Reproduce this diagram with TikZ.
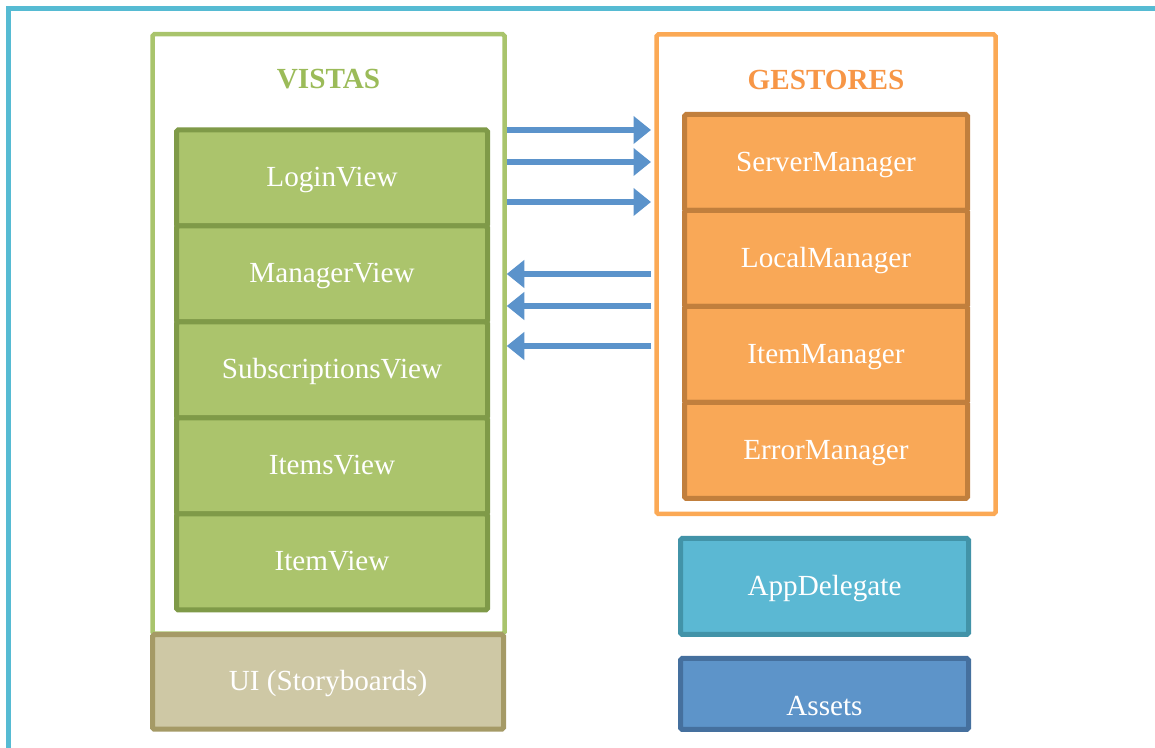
\documentclass[tikz,border=0pt]{standalone}
\usepackage{fontspec}
\setmainfont{Liberation Serif}
\usepackage{xcolor}
\usepackage{tikz}
\usetikzlibrary{arrows.meta,positioning}

\definecolor{marco}{HTML}{56BBD3}
\definecolor{verdeMarco}{HTML}{A9C46C}
\definecolor{verdeTitulo}{HTML}{9BBB59}
\definecolor{verdeRelleno}{HTML}{ABC46C}
\definecolor{verdeBorde}{HTML}{7F9A48}
\definecolor{uiRelleno}{HTML}{CEC8A5}
\definecolor{uiBorde}{HTML}{A59A66}
\definecolor{naranjaMarco}{HTML}{FBA955}
\definecolor{naranjaTitulo}{HTML}{F79646}
\definecolor{naranjaRelleno}{HTML}{F9A857}
\definecolor{naranjaBorde}{HTML}{C17F3D}
\definecolor{appRelleno}{HTML}{5BB8D3}
\definecolor{appBorde}{HTML}{4293A8}
\definecolor{assetsRelleno}{HTML}{5D94C9}
\definecolor{assetsBorde}{HTML}{45709E}
\definecolor{flechaAzul}{HTML}{5B93CB}

\begin{document}
\begin{tikzpicture}[
  font=\fontsize{16.6}{19.9}\selectfont,
  grupo/.style={draw, line width=0.09cm, rounded corners=1pt, fill=white},
  titulo/.style={font=\fontsize{16.6}{19.9}\selectfont\bfseries},
  caja/.style={draw, line width=0.1cm, rounded corners=1pt, outer sep=0pt, text=white, align=center,
    text height=0.48cm, text depth=0.12cm},
  vista/.style={caja, fill=verdeRelleno, draw=verdeBorde, minimum width=6.22cm, minimum height=1.92cm},
  gestor/.style={caja, fill=naranjaRelleno, draw=naranjaBorde, minimum width=5.66cm, minimum height=1.92cm},
  flecha/.style={-{Triangle[length=0.35cm, width=0.54cm]}, line width=0.12cm, draw=flechaAzul, fill=flechaAzul}
]
\useasboundingbox (0,0) rectangle (23.1,14.96);
\clip (0,0) rectangle (23.1,14.96);
\draw[marco, line width=0.1cm] (0.17,-1) rectangle (24,14.79);

% vistas
\node[grupo, draw=verdeMarco, minimum width=7.04cm, minimum height=11.99cm] (vistas) at (6.57,8.28) {};
\node[titulo, text=verdeTitulo] (tvistas) at ([yshift=-0.95cm]vistas.north) {VISTAS};
\node[vista] (login) at (6.64,11.40) {LoginView};
\node[vista, below=0pt of login] (manager) {ManagerView};
\node[vista, below=0pt of manager] (subs) {SubscriptionsView};
\node[vista, below=0pt of subs] (items) {ItemsView};
\node[vista, below=0pt of items] (item) {ItemView};
\node[caja, fill=uiRelleno, draw=uiBorde, minimum width=7.02cm, minimum height=1.89cm] (ui) at (6.56,1.32) {UI (Storyboards)};

% gestores
\node[grupo, draw=naranjaMarco, minimum width=6.78cm, minimum height=9.59cm] (gestores) at (16.52,9.475) {};
\node[titulo, text=naranjaTitulo] (tgestores) at ([yshift=-0.95cm]gestores.north) {GESTORES};
\node[gestor] (server) at (16.52,11.71) {ServerManager};
\node[gestor, below=0pt of server] (local) {LocalManager};
\node[gestor, below=0pt of local] (itemm) {ItemManager};
\node[gestor, below=0pt of itemm] (error) {ErrorManager};

\node[caja, fill=appRelleno, draw=appBorde, minimum width=5.76cm, minimum height=1.92cm] (app) at (16.49,3.23) {AppDelegate};
\node[caja, fill=assetsRelleno, draw=assetsBorde, minimum width=5.76cm, minimum height=1.42cm,
  label={[text=white, yshift=-0.24cm]center:Assets}] (assets) at (16.49,1.08) {};

% flechas
\foreach \y in {12.36,11.72,10.92}
  \draw[flecha, shorten >=0.065cm] (vistas.east |- 0,\y) -- (gestores.west |- 0,\y);
\foreach \y in {9.48,8.84,8.04}
  \draw[flecha, shorten <=0.065cm] (gestores.west |- 0,\y) -- (vistas.east |- 0,\y);
\end{tikzpicture}
\end{document}
